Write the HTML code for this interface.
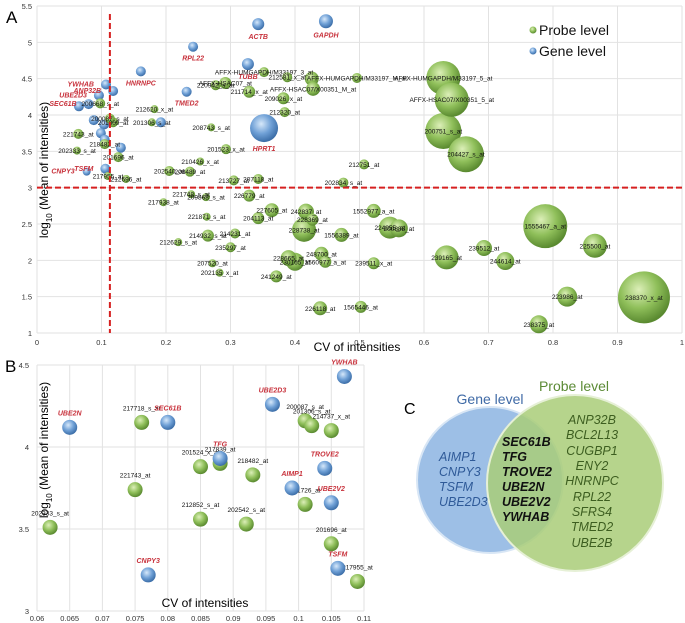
<!DOCTYPE html>
<html><head><meta charset="utf-8"><style>
body{margin:0;background:#fff;}
svg{display:block;font-family:"Liberation Sans",sans-serif;}
</style></head><body>
<svg id="fig" width="685" height="623" viewBox="0 0 685 623" xmlns="http://www.w3.org/2000/svg">
<defs>
<radialGradient id="gG" cx="40%" cy="35%" r="65%"><stop offset="0" stop-color="#dcefb8"/><stop offset="0.55" stop-color="#8fbf5a"/><stop offset="1" stop-color="#5a8a30"/></radialGradient>
<radialGradient id="gB" cx="40%" cy="35%" r="65%"><stop offset="0" stop-color="#d6e8fa"/><stop offset="0.55" stop-color="#6fa0d6"/><stop offset="1" stop-color="#3c6ea8"/></radialGradient>
</defs>
<g id="panelA"></g>
<g id="panelB"></g>
<g id="panelC">
<text x="404" y="414" font-size="16">C</text>
<circle cx="490" cy="480" r="73" fill="#9dbfe6" stroke="#d8e6f5" stroke-width="2"/>
<circle cx="575" cy="483" r="88" fill="#a9cc78" fill-opacity="0.85" stroke="#e6f0d6" stroke-width="2"/>
<text x="490" y="404" font-size="14" fill="#3f6aa6" text-anchor="middle">Gene level</text>
<text x="574" y="391" font-size="14" fill="#5b8a35" text-anchor="middle">Probe level</text>
<g font-size="12.5" font-style="italic" fill="#2f5a98" text-anchor="start">
<text x="439" y="461">AIMP1</text><text x="439" y="476">CNPY3</text><text x="439" y="491">TSFM</text><text x="439" y="506">UBE2D3</text></g>
<g font-size="12.5" font-style="italic" font-weight="bold" fill="#111" text-anchor="start">
<text x="502" y="446">SEC61B</text><text x="502" y="461">TFG</text><text x="502" y="476">TROVE2</text><text x="502" y="491">UBE2N</text><text x="502" y="506">UBE2V2</text><text x="502" y="521">YWHAB</text></g>
<g font-size="12.5" font-style="italic" fill="#3d5e20" text-anchor="middle">
<text x="592" y="424">ANP32B</text><text x="592" y="439">BCL2L13</text><text x="592" y="455">CUGBP1</text><text x="592" y="470">ENY2</text><text x="592" y="485">HNRNPC</text><text x="592" y="501">RPL22</text><text x="592" y="516">SFRS4</text><text x="592" y="531">TMED2</text><text x="592" y="547">UBE2B</text></g>
</g>
</svg>
<script>
// ---------- Panel A data ----------
const aX = [0.448,0.343,0.242,0.327,0.161,0.232,0.352,0.107,0.118,0.096,0.080,0.065,0.088,0.104,0.099,0.105,0.077,0.106,0.192,0.130,
0.182,0.270,0.293,0.253,0.205,0.237,0.138,0.305,0.343,0.239,0.262,0.196,0.329,0.364,0.417,0.427,0.414,0.263,0.343,0.265,0.307,0.219,0.300,0.272,0.283,0.371,0.390,0.400,0.441,0.447,0.439,
0.277,0.292,0.352,0.329,0.388,0.426,0.428,0.382,0.384,0.098,0.118,0.064,0.062,0.105,0.126,0.110,0.178,0.113,0.475,
0.496,0.630,0.643,0.630,0.665,0.507,0.522,0.547,0.561,0.472,0.522,0.502,0.635,0.693,0.726,0.788,0.865,0.822,0.778,0.941];
const aY = [5.29,5.25,4.94,4.70,4.60,4.32,3.82,4.42,4.33,4.27,4.15,4.12,3.93,3.87,3.75,3.66,3.22,3.26,3.90,3.55,
4.08,3.83,3.53,3.36,3.23,3.22,3.12,3.10,3.12,2.91,2.87,2.80,2.89,2.69,2.67,2.56,2.42,2.60,2.58,2.34,2.37,2.25,2.18,1.96,1.83,1.78,2.03,1.98,2.09,1.98,1.34,
4.41,4.44,4.59,4.32,4.52,4.50,4.36,4.23,4.04,4.16,3.90,3.74,3.51,3.60,3.42,3.16,3.90,3.95,3.07,
4.51,4.51,4.21,3.78,3.46,3.32,2.68,2.45,2.44,2.35,1.96,1.36,2.04,2.17,1.99,2.47,2.20,1.50,1.12,1.49];
const aSize = [7,6,5,6,5,5,14,5,5,5,5,5,5,5,5,5,4,5,5,5,
4,4,5,4,5,5,4,5,5,4,4,4,6,7,8,6,12,4,6,6,5,4,5,4,4,6,8,9,7,6,7,
5,6,5,6,5,7,7,6,5,5,5,5,4,5,5,4,4,5,5,
5,17,17,18,18,5,7,11,9,7,6,6,12,8,9,22,12,10,9,26];
const aGene = ["GAPDH","ACTB","RPL22","TUBB","HNRNPC","TMED2","HPRT1","YWHAB","ANP32B","UBE2D3","SEC61B","","","","","","CNPY3","TSFM","",""];
const aLabel = ["","","","","","","","","","","","","","","","","","","","",
"212620_x_at","208743_s_at","201523_x_at","210426_x_at","202540_at","208489_at","212696_at","213727_at","207118_at","221748_s_at","209868_s_at","217938_at","226779_at","227605_at","242837_at","228369_at","228738_at","221871_s_at","204113_at","214932_s_at","214231_at","212629_s_at","235297_at","207520_at","202135_x_at","241249_at","228665_at","230165_at","248700_at","1560977_a_at","226118_at",
"220942_s_at","AFFX-HSAC07_at","AFFX-HUMGAPDH/M33197_3_at","211714_x_at","212581_x_at","","AFFX-HSAC07/X00351_M_at","209026_x_at","212320_at","200668_s_at","201309_at","221743_at","202333_s_at","218482_at","201696_at","217955_at","201306_s_at","200087_s_at","202834_s_at",
"AFFX-HUMGAPDH/M33197_M_at","AFFX-HUMGAPDH/M33197_5_at","AFFX-HSAC07/X00351_5_at","200751_s_at","204427_s_at","212751_at","1552977_a_at","224055_at","200883_at","1556389_at","239511_x_at","1565446_at","239165_at","239512_at","244614_at","1555467_a_at","225500_at","223986_at","238375_at","238370_x_at"];
const aTicksX = [0,0.1,0.2,0.3,0.4,0.5,0.6,0.7,0.8,0.9,1];
const aTicksY = [1,1.5,2,2.5,3,3.5,4,4.5,5,5.5];
const aCutX = 0.113, aCutY = 3;

// ---------- Panel B data ----------
const bX = [0.062,0.076,0.075,0.085,0.088,0.085,0.093,0.092,0.101,0.102,0.105,0.101,0.105,0.109,
0.065,0.080,0.088,0.096,0.107,0.104,0.099,0.105,0.077,0.106];
const bY = [3.51,4.15,3.74,3.88,3.90,3.56,3.83,3.53,4.16,4.13,4.10,3.65,3.41,3.18,
4.12,4.15,3.93,4.26,4.43,3.87,3.75,3.66,3.22,3.26];
const bGene = [0,0,0,0,0,0,0,0,0,0,0,0,0,0,1,1,1,1,1,1,1,1,1,1];
const bLabel = ["202333_s_at","217718_s_at","221743_at","201524_x_at","217839_at","212852_s_at","218482_at","202542_s_at","200087_s_at","201306_s_at","214737_x_at","221726_at","201696_at","217955_at",
"UBE2N","SEC61B","TFG","UBE2D3","YWHAB","TROVE2","AIMP1","UBE2V2","CNPY3","TSFM"];
const bTicksX = [0.06,0.065,0.07,0.075,0.08,0.085,0.09,0.095,0.1,0.105,0.11];
const bTicksY = [3,3.5,4,4.5];

const NS="http://www.w3.org/2000/svg";
function mk(parent,tag,attrs,txt){const e=document.createElementNS(NS,tag);for(const k in attrs)e.setAttribute(k,attrs[k]);if(txt!==undefined)e.textContent=txt;parent.appendChild(e);return e;}

// ----- Panel A -----
const A=document.getElementById('panelA');
const ax0=37,ax1=682,ay0=333,ay1=6;
const xA=v=>ax0+(v-0)/(1-0)*(ax1-ax0);
const yA=v=>ay0-(v-1)/(5.5-1)*(ay0-ay1);
let t=mk(A,'text',{x:6,y:23,'font-size':17});t.textContent='A';


aTicksX.forEach(v=>{
 const l=mk(A,'line',{x1:xA(v),x2:xA(v),y1:ay1,y2:ay0,stroke:'#e2e2e2','stroke-width':1});
 
 
 const tx=mk(A,'text',{x:xA(v),y:ay0+12,'font-size':7.5,'text-anchor':'middle',fill:'#333'},String(v));
 
 
});
aTicksY.forEach(v=>{
 const l=mk(A,'line',{x1:ax0,x2:ax1,y1:yA(v),y2:yA(v),stroke:'#e2e2e2','stroke-width':1});
 
 
 const tx=mk(A,'text',{x:ax0-5,y:yA(v)+3,'font-size':7.5,'text-anchor':'end',fill:'#333'},String(v));
 
 
});
let yt=mk(A,'text',{transform:'translate(48,170) rotate(-90)','font-size':12,'text-anchor':'middle'});
yt.innerHTML='log<tspan font-size="8" dy="4">10</tspan><tspan dy="-4"> (Mean of intensities)</tspan>';


let xt=mk(A,'text',{x:357,y:351,'font-size':12,'text-anchor':'middle'},'CV of intensities');


// order: draw larger bubbles first
const orderA=aX.map((_,i)=>i).sort((p,q)=>aSize[q]-aSize[p]);
orderA.forEach(i=>{
 const isGene=i<aGene.length;
 const c=mk(A,'circle',{cx:xA(aX[i]),cy:yA(aY[i]),r:aSize[i],fill:isGene?'url(#gB)':'url(#gG)'});
 
 
});
aX.forEach((_,i)=>{
 const isGene=i<aGene.length;
 if(isGene&&aGene[i]){
  const tx=mk(A,'text',{x:xA(aX[i])-(i>=7?12:0),y:yA(aY[i])+(i>=7?2:aSize[i]+9),'font-size':7,'font-style':'italic','font-weight':'bold',fill:'#c8323c','text-anchor':i>=7?'end':'middle'},aGene[i]);
  
  
 } else if(!isGene&&aLabel[i]){
  const tx=mk(A,'text',{x:xA(aX[i]),y:yA(aY[i])+2.5,'font-size':6.5,fill:'#111','text-anchor':'middle'},aLabel[i]);
  
  
 }
});
let dv=mk(A,'line',{x1:xA(aCutX),x2:xA(aCutX),y1:ay1+8,y2:ay0,stroke:'#d62020','stroke-width':2,'stroke-dasharray':'6,3'});


let dh=mk(A,'line',{x1:ax0,x2:ax1,y1:yA(aCutY),y2:yA(aCutY),stroke:'#d62020','stroke-width':2,'stroke-dasharray':'6,3'});


// legend
[['Probe level','url(#gG)',35],['Gene level','url(#gB)',56]].forEach(d=>{
 const c=mk(A,'circle',{cx:533,cy:d[2]-5,r:3.5,fill:d[1]});
 
 
 const tx=mk(A,'text',{x:539,y:d[2],'font-size':14,fill:'#111'},d[0]);
 
 
});

// ----- Panel B -----
const B=document.getElementById('panelB');
const bx0=37,bx1=364,by0=611,by1=365;
const xB=v=>bx0+(v-0.06)/(0.11-0.06)*(bx1-bx0);
const yB=v=>by0-(v-3)/(4.5-3)*(by0-by1);
let tb=mk(B,'text',{x:5,y:372,'font-size':17});tb.textContent='B';


bTicksX.forEach(v=>{
 const l=mk(B,'line',{x1:xB(v),x2:xB(v),y1:by1,y2:by0,stroke:'#e2e2e2','stroke-width':1});
 
 
 const tx=mk(B,'text',{x:xB(v),y:by0+10,'font-size':7.5,'text-anchor':'middle',fill:'#333'},String(v));
 
 
});
bTicksY.forEach(v=>{
 const l=mk(B,'line',{x1:bx0,x2:bx1,y1:yB(v),y2:yB(v),stroke:'#e2e2e2','stroke-width':1});
 
 
 const tx=mk(B,'text',{x:bx0-8,y:yB(v)+3,'font-size':7.5,'text-anchor':'end',fill:'#333'},String(v));
 
 
});
let ytb=mk(B,'text',{transform:'translate(48,450) rotate(-90)','font-size':12,'text-anchor':'middle'});
ytb.innerHTML='log<tspan font-size="8" dy="4">10</tspan><tspan dy="-4"> (Mean of intensities)</tspan>';


let xtb=mk(B,'text',{x:205,y:607,'font-size':12,'text-anchor':'middle'},'CV of intensities');


bX.forEach((_,i)=>{
 const c=mk(B,'circle',{cx:xB(bX[i]),cy:yB(bY[i]),r:7.5,fill:bGene[i]?'url(#gB)':'url(#gG)'});
 
 
 const tx=mk(B,'text',{x:xB(bX[i]),y:yB(bY[i])-12,'font-size':bGene[i]?7:6.5,'font-style':bGene[i]?'italic':'normal','font-weight':bGene[i]?'bold':'normal',fill:bGene[i]?'#c8323c':'#111','text-anchor':'middle'},bLabel[i]);
 
 
});
</script>
</body></html>
